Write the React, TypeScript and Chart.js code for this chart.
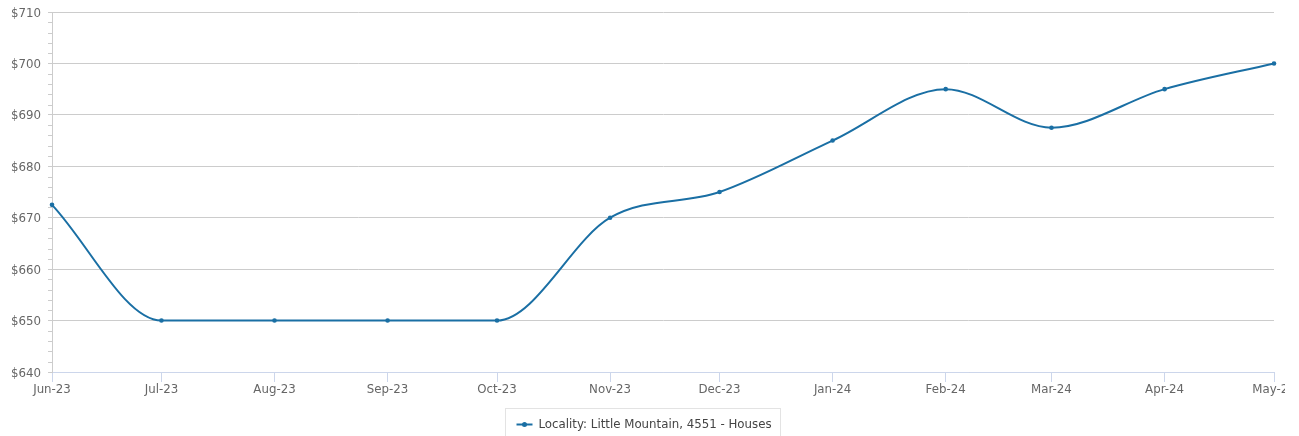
import React, { useEffect, useRef } from "react";
import { Chart, registerables } from "chart.js";

Chart.register(...registerables);

const months = [
  "2023-06-01", "2023-07-01", "2023-08-01", "2023-09-01", "2023-10-01", "2023-11-01",
  "2023-12-01", "2024-01-01", "2024-02-01", "2024-03-01", "2024-04-01", "2024-05-01",
];
const tickLabels = [
  "Jun-23", "Jul-23", "Aug-23", "Sep-23", "Oct-23", "Nov-23",
  "Dec-23", "Jan-24", "Feb-24", "Mar-24", "Apr-24", "May-24",
];
const prices = [672.5, 650, 650, 650, 650, 670, 675, 685, 695, 687.5, 695, 700];
const seriesLabel = "Locality: Little Mountain, 4551 - Houses";
const yMin = 640;
const yMax = 710;
const yStep = 10;
const yMinorStep = 2;

const LINE_COLOR = "#1a6fa4";
const FONT = "DejaVu Sans";

export default function App() {
  const ref = useRef<HTMLCanvasElement>(null);

  useEffect(() => {
    document.body.style.margin = "0";
    const t0 = Date.parse(months[0]);
    const days = months.map((m) => Math.round((Date.parse(m) - t0) / 86400000));

    const minorTicks = {
      id: "minorTicks",
      afterDraw(chart: any) {
        const y = chart.scales.y;
        const ctx = chart.ctx;
        const left = chart.chartArea.left;
        ctx.save();
        ctx.strokeStyle = "#cccccc";
        ctx.lineWidth = 1;
        for (let v = yMin; v <= yMax; v += yMinorStep) {
          if (v % yStep === 0) continue;
          const py = Math.round(y.getPixelForValue(v)) + 0.5;
          ctx.beginPath();
          ctx.moveTo(left - 4, py);
          ctx.lineTo(left, py);
          ctx.stroke();
        }
        ctx.restore();
      },
    };

    const legendBox = {
      id: "legendBox",
      afterDraw(chart: any) {
        const ctx = chart.ctx;
        ctx.save();
        ctx.font = `11.8px '${FONT}'`;
        const tw = ctx.measureText(seriesLabel).width;
        const boxW = Math.round(tw + 42);
        const boxX = Math.round(chart.width / 2 - boxW / 2) + 0.5;
        const boxY = 408.5;
        ctx.strokeStyle = "#e3e3e3";
        ctx.lineWidth = 1;
        ctx.strokeRect(boxX, boxY, boxW, 40);
        const cy = 424.5;
        const sx = boxX + 11;
        ctx.strokeStyle = LINE_COLOR;
        ctx.lineWidth = 2;
        ctx.beginPath();
        ctx.moveTo(sx, cy);
        ctx.lineTo(sx + 16, cy);
        ctx.stroke();
        ctx.fillStyle = LINE_COLOR;
        ctx.beginPath();
        ctx.arc(sx + 8, cy, 2.5, 0, Math.PI * 2);
        ctx.fill();
        ctx.fillStyle = "#444444";
        ctx.textBaseline = "middle";
        ctx.textAlign = "left";
        ctx.fillText(seriesLabel, sx + 22, cy);
        ctx.restore();
      },
    };

    const chart = new Chart(ref.current as HTMLCanvasElement, {
      type: "line",
      data: {
        datasets: [
          {
            label: seriesLabel,
            data: days.map((d, i) => ({ x: d, y: prices[i] })),
            borderColor: LINE_COLOR,
            backgroundColor: LINE_COLOR,
            borderWidth: 2,
            pointRadius: 2.3,
            pointHoverRadius: 2.3,
            pointBorderWidth: 0,
            cubicInterpolationMode: "monotone",
            fill: false,
            clip: 6,
          } as any,
        ],
      },
      options: {
        responsive: false,
        animation: false,
        events: [],
        layout: { padding: { top: 12, right: 11, bottom: 36, left: 0 } },
        plugins: {
          legend: { display: false },
          tooltip: { enabled: false },
        },
        scales: {
          x: {
            type: "linear",
            min: days[0],
            max: days[days.length - 1],
            afterBuildTicks: (s: any) => {
              s.ticks = days.map((v) => ({ value: v }));
            },
            afterFit: (s: any) => {
              s.paddingLeft = 0;
              s.paddingRight = 0;
              s.height = 28;
            },
            ticks: {
              autoSkip: false,
              maxRotation: 0,
              minRotation: 0,
              padding: 1,
              color: "#666666",
              font: { family: FONT, size: 11.8 },
              callback: (v: any) => {
                const i = days.indexOf(Number(v));
                return i >= 0 ? tickLabels[i] : "";
              },
            },
            grid: {
              drawOnChartArea: false,
              drawTicks: true,
              tickLength: 10,
              tickColor: "#ccd6eb",
            },
            border: { color: "#ccd6eb" },
          },
          y: {
            min: yMin,
            max: yMax,
            afterFit: (s: any) => {
              s.width = 52;
              s.paddingTop = 0;
              s.paddingBottom = 0;
            },
            ticks: {
              stepSize: yStep,
              padding: 7,
              labelOffset: 1.5,
              color: "#666666",
              font: { family: FONT, size: 11.8 },
              callback: (v: any) => "$" + v,
            },
            grid: {
              color: "#cccccc",
              tickLength: 4,
              tickColor: "#cccccc",
            },
            border: { color: "#cccccc" },
          },
        },
      } as any,
      plugins: [minorTicks, legendBox],
    });
    return () => chart.destroy();
  }, []);

  return (
    <div
      style={{
        position: "absolute",
        left: 0,
        top: 0,
        width: 1299,
        height: 436,
        overflow: "hidden",
        background: "#fff",
      }}
    >
      <canvas ref={ref} width={1285} height={436} style={{ display: "block" }} />
    </div>
  );
}
